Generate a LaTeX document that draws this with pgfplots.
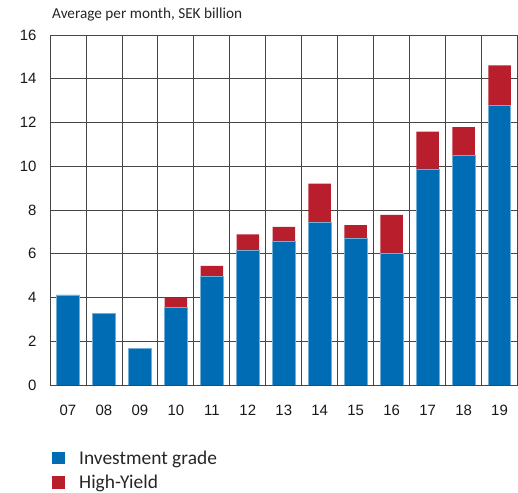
\documentclass[border=0pt]{standalone}
\usepackage{fontspec}
\setmainfont{Liberation Sans}
\newfontfamily\carlito{Carlito}
\usepackage{pgfplots}
\pgfplotsset{compat=1.18}
\definecolor{ig}{RGB}{0,108,180}
\definecolor{hy}{RGB}{185,30,45}
\definecolor{gridc}{RGB}{70,70,70}
\pgfplotsset{sqlegend/.style={legend image code/.code={\fill[##1, draw=none] (0bp,-6.25bp) rectangle (12.5bp,6.25bp);
    \path[draw=none, fill=none] (0bp,0bp) rectangle (25bp,0.1bp);}}}
\begin{document}
\begin{tikzpicture}[x=1bp,y=1bp]
\useasboundingbox (0,0) rectangle (518,493);
\node[anchor=base west, font=\carlito\fontsize{15.3}{18}\selectfont, text=black!85, inner sep=0pt] at (52,474) {Average per month, SEK billion};
\begin{axis}[
  at={(50bp,108bp)}, anchor=south west,
  scale only axis, width=467.5bp, height=350bp,
  xmin=-0.5, xmax=12.5, ymin=0, ymax=16,
  ybar stacked, bar width=22.5bp,
  xtick={0,...,12},
  xticklabels={07,08,09,10,11,12,13,14,15,16,17,18,19},
  ytick={0,2,...,16},
  minor xtick={0.5,1.5,...,11.5},
  xminorgrids, ymajorgrids,
  grid style={gridc, line width=0.8bp},
  minor grid style={gridc, line width=0.8bp},
  axis line style={gridc, line width=0.8bp},
  major tick length=0pt, minor tick length=0pt,
  tick label style={font=\fontsize{15}{17}\selectfont, text=black!90},
  /pgf/number format/assume math mode=true,
  yticklabel style={xshift=-10bp},
  xticklabel style={yshift=-17bp},
  legend cell align=left,
  legend style={draw=none, fill=none, at={(rel axis cs:0,0)}, anchor=north west,
    xshift=-1bp, yshift=-61.5bp, row sep=5.5bp,
    font=\carlito\fontsize{19.5}{22}\selectfont, text=black!85},
]
\addplot[fill=ig, draw=ig!55!white, line width=0.6bp, sqlegend] coordinates {
(0,4.12) (1,3.29) (2,1.66) (3,3.56) (4,4.96) (5,6.15) (6,6.59)
(7,7.44) (8,6.71) (9,6.04) (10,9.88) (11,10.48) (12,12.78)};
\addplot[fill=hy, draw=none, sqlegend] coordinates {
(0,0) (1,0) (2,0) (3,0.41) (4,0.49) (5,0.74) (6,0.64) (7,1.76) (8,0.60) (9,1.74)
(10,1.70) (11,1.31) (12,1.83)};
\legend{Investment grade, High-Yield}
\end{axis}
\end{tikzpicture}
\end{document}
